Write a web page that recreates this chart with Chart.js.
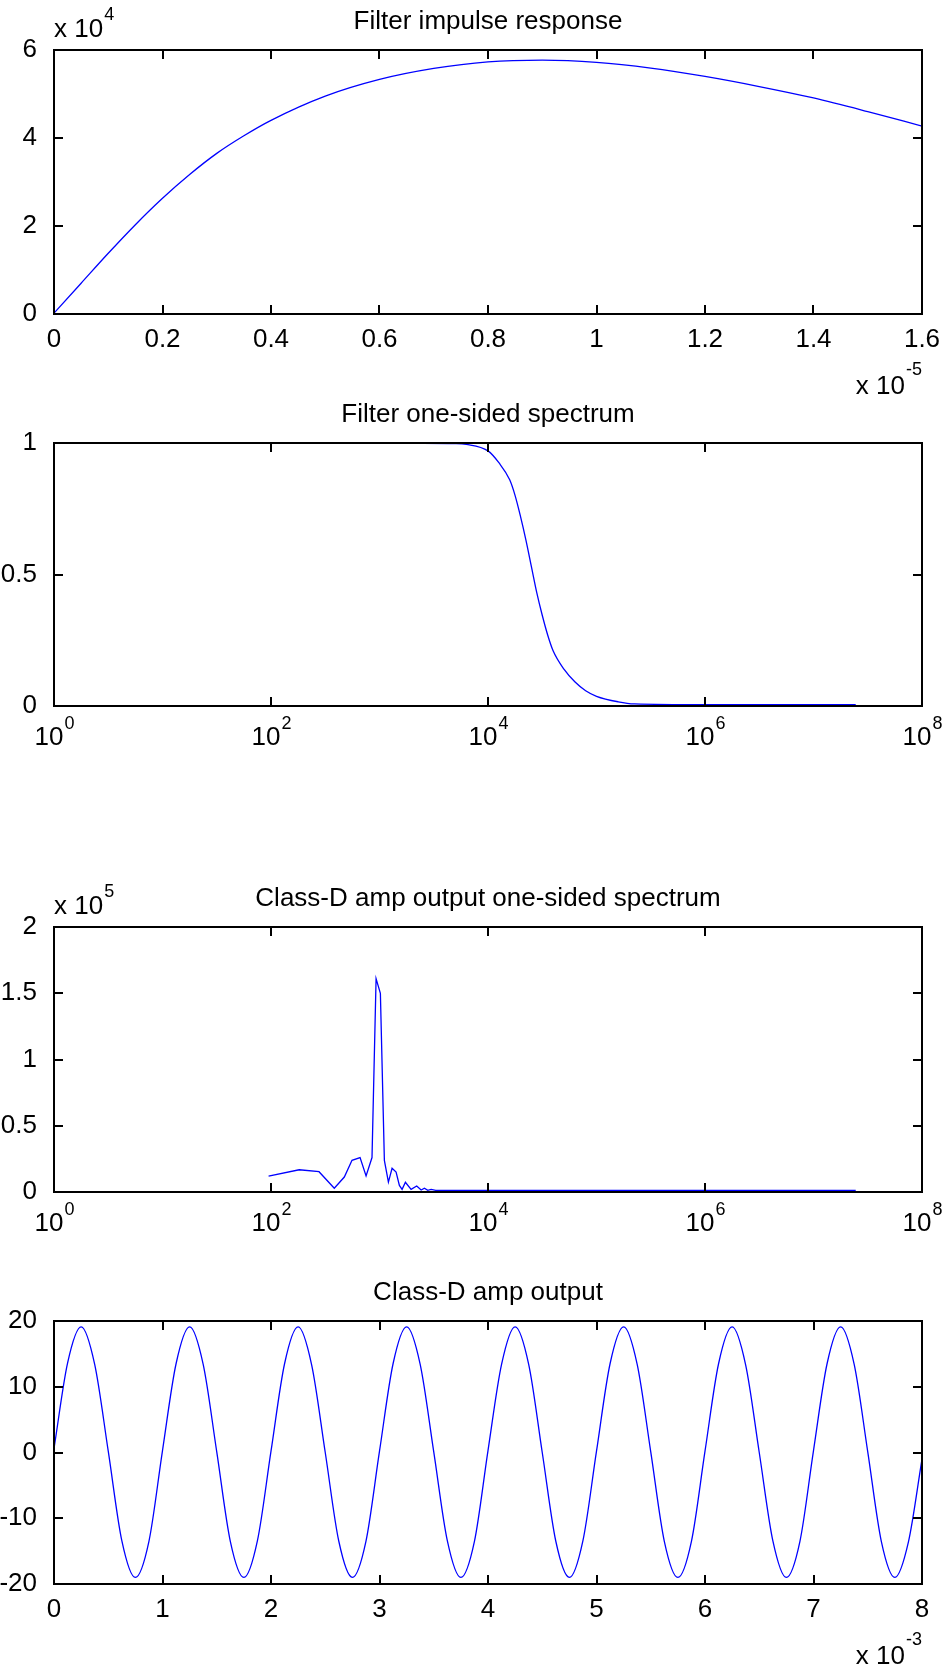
<!DOCTYPE html>
<html>
<head>
<meta charset="utf-8">
<title>Class-D amp</title>
<script src="https://cdn.jsdelivr.net/npm/chart.js@4.4.1/dist/chart.umd.min.js"></script>
<style>
  html, body { margin: 0; padding: 0; background: #fff; overflow: hidden; }
  #wrap { position: relative; width: 947px; height: 1670px; }
  canvas { position: absolute; left: 0; }
</style>
</head>
<body>
<div id="wrap">
  <canvas id="c1"></canvas>
  <canvas id="c2"></canvas>
  <canvas id="c3"></canvas>
  <canvas id="c4"></canvas>
</div>
<script>
// ---- data ----

// Filter impulse response: time in units of 1e-5 s, value in units of 1e4
const impulseT = [0, 0.05, 0.1, 0.15, 0.2, 0.25, 0.3, 0.35, 0.4, 0.5, 0.6, 0.7, 0.8, 0.9, 1.0, 1.1, 1.2, 1.3, 1.4, 1.5, 1.6];
const impulseH = [0.02, 0.7, 1.38, 2.03, 2.63, 3.17, 3.65, 4.05, 4.4, 4.95, 5.33, 5.58, 5.73, 5.77, 5.72, 5.59, 5.40, 5.17, 4.91, 4.60, 4.27];
const impulseXTicks = [0, 0.2, 0.4, 0.6, 0.8, 1, 1.2, 1.4, 1.6];
const impulseYTicks = [0, 2, 4, 6];

// Filter one-sided spectrum: frequency in Hz, magnitude
const filterFreq = [100, 1000, 5000, 6310, 10000, 12590, 15850, 17780, 19950, 22390, 25120, 28180, 31620, 35480, 39810, 50120, 63100, 79430, 100000, 158500, 223900, 1000000, 24500000];
const filterMag = [1, 1, 0.998, 0.995, 0.97, 0.925, 0.86, 0.80, 0.72, 0.63, 0.53, 0.43, 0.345, 0.27, 0.21, 0.14, 0.092, 0.058, 0.037, 0.016, 0.008, 0.005, 0.005];
const spectrumYTicks = [0, 0.5, 1];

// Class-D amp output one-sided spectrum: frequency in Hz, magnitude in units of 1e5
const ampFreq = [95, 182, 277, 383, 474, 558, 662, 752, 853, 930, 1019, 1109, 1208, 1306, 1422, 1525, 1615, 1733, 1955, 2203, 2421, 2594, 2785, 2990, 3300, 10000, 1000000, 24500000];
const ampMag = [0.12, 0.168, 0.153, 0.028, 0.113, 0.239, 0.26, 0.121, 0.26, 1.61, 1.50, 0.239, 0.075, 0.179, 0.151, 0.05, 0.02, 0.073, 0.02, 0.045, 0.015, 0.028, 0.012, 0.02, 0.012, 0.012, 0.012, 0.012];
const ampSpecYTicks = [0, 0.5, 1, 1.5, 2];

const logTicks = [1, 100, 10000, 1000000, 100000000];

// Class-D amp output: time in units of 1e-3 s, volts
const outT = [
  0, 0.125, 0.25, 0.375, 0.5, 0.625, 0.75, 0.875,
  1, 1.125, 1.25, 1.375, 1.5, 1.625, 1.75, 1.875,
  2, 2.125, 2.25, 2.375, 2.5, 2.625, 2.75, 2.875,
  3, 3.125, 3.25, 3.375, 3.5, 3.625, 3.75, 3.875,
  4, 4.125, 4.25, 4.375, 4.5, 4.625, 4.75, 4.875,
  5, 5.125, 5.25, 5.375, 5.5, 5.625, 5.75, 5.875,
  6, 6.125, 6.25, 6.375, 6.5, 6.625, 6.75, 6.875,
  7, 7.125, 7.25, 7.375, 7.5, 7.625, 7.75, 7.875,
  8
];
const outV = [
  0.6, 13.6, 19.1, 13.4, 0.2, -13.4, -19.0, -13.5,
  0.3, 13.5, 19.1, 13.4, 0.1, -13.5, -19.0, -13.4,
  0.2, 13.5, 19.1, 13.3, 0.0, -13.5, -19.0, -13.5,
  0.2, 13.5, 19.1, 13.4, 0.1, -13.4, -19.0, -13.5,
  0.3, 13.4, 19.1, 13.4, 0.0, -13.5, -19.0, -13.4,
  0.2, 13.5, 19.1, 13.4, 0.1, -13.5, -19.0, -13.5,
  0.2, 13.5, 19.1, 13.3, 0.0, -13.4, -19.0, -13.5,
  0.3, 13.5, 19.1, 13.4, 0.1, -13.5, -19.0, -13.6,
  -1.0
];
const outXTicks = [0, 1, 2, 3, 4, 5, 6, 7, 8];
const outYTicks = [-20, -10, 0, 10, 20];

// ---- look ----
const FONT_FAMILY = '"Liberation Sans", Arial, Helvetica, sans-serif';
const FONT_SIZE = 26;
const SUP_SIZE = 18;
const TICK_LEN = 9;
const PLOT_LEFT = 54;
const PLOT_RIGHT = 922;
const PAGE_W = 947;

Chart.defaults.font.family = FONT_FAMILY;
Chart.defaults.font.size = FONT_SIZE;
Chart.defaults.color = '#000';

// MATLAB-like box, inward ticks on all sides, title and exponent notes
const matlabAxes = {
  id: 'matlabAxes',
  afterDraw(chart, args, opts) {
    const ctx = chart.ctx;
    const a = chart.chartArea;
    const xs = chart.scales.x;
    const ys = chart.scales.y;
    ctx.save();
    ctx.strokeStyle = '#000';
    ctx.lineWidth = 2;
    ctx.beginPath();
    xs.ticks.forEach((t) => {
      const px = Math.round(xs.getPixelForValue(t.value));
      ctx.moveTo(px, a.bottom);
      ctx.lineTo(px, a.bottom - TICK_LEN);
      ctx.moveTo(px, a.top);
      ctx.lineTo(px, a.top + TICK_LEN);
    });
    ys.ticks.forEach((t) => {
      const py = Math.round(ys.getPixelForValue(t.value));
      ctx.moveTo(a.left, py);
      ctx.lineTo(a.left + TICK_LEN, py);
      ctx.moveTo(a.right, py);
      ctx.lineTo(a.right - TICK_LEN, py);
    });
    ctx.stroke();
    ctx.strokeRect(a.left, a.top, a.right - a.left, a.bottom - a.top);

    const big = FONT_SIZE + 'px ' + FONT_FAMILY;
    const small = SUP_SIZE + 'px ' + FONT_FAMILY;
    ctx.fillStyle = '#000';
    ctx.textBaseline = 'middle';

    // title
    ctx.font = big;
    ctx.textAlign = 'center';
    ctx.fillText(opts.title, (a.left + a.right) / 2, a.top - 28);

    // log axis labels 10^n
    if (opts.logLabels) {
      xs.ticks.forEach((t) => {
        const px = xs.getPixelForValue(t.value);
        const e = String(Math.round(Math.log10(t.value)));
        ctx.font = big;
        const w1 = ctx.measureText('10').width;
        ctx.font = small;
        const w2 = ctx.measureText(e).width;
        const x0 = px - (w1 + w2) / 2;
        ctx.textAlign = 'left';
        ctx.font = big;
        ctx.fillText('10', x0, a.bottom + 32);
        ctx.font = small;
        ctx.fillText(e, x0 + w1 + 1, a.bottom + 18);
      });
    }

    // "x 10^n" on the y axis
    if (opts.yExp) {
      ctx.textAlign = 'left';
      ctx.font = big;
      const w = ctx.measureText('x 10').width;
      ctx.fillText('x 10', a.left, a.top - 20);
      ctx.font = small;
      ctx.fillText(opts.yExp, a.left + w + 1, a.top - 35);
    }

    // "x 10^n" under the x axis
    if (opts.xExp) {
      ctx.font = small;
      const w2 = ctx.measureText(opts.xExp).width;
      ctx.textAlign = 'left';
      ctx.fillText(opts.xExp, a.right - w2, a.bottom + 56);
      ctx.font = big;
      ctx.textAlign = 'right';
      ctx.fillText('x 10', a.right - w2 - 1, a.bottom + 73);
    }
    ctx.restore();
  }
};

function fixedTicks(list) {
  return (scale) => {
    scale.ticks = list.map((v) => ({ value: v }));
  };
}

// plain MATLAB style numbers: 1 not 1.0
const plainLabel = (v) => String(v);

function makeChart(id, box, dataset, xCfg, yCfg, notes) {
  const canvas = document.getElementById(id);
  const canvasTop = box.top - 50;
  const canvasH = box.bottom - canvasTop + box.below;
  canvas.width = PAGE_W;
  canvas.height = canvasH;
  canvas.style.top = canvasTop + 'px';
  canvas.style.width = PAGE_W + 'px';
  canvas.style.height = canvasH + 'px';

  return new Chart(canvas.getContext('2d'), {
    type: 'line',
    data: { datasets: [dataset] },
    options: {
      responsive: false,
      animation: false,
      devicePixelRatio: 1,
      layout: { padding: { left: 0, right: PAGE_W - PLOT_RIGHT, top: 50, bottom: 0 } },
      plugins: {
        legend: { display: false },
        tooltip: { enabled: false },
        title: { display: false },
        matlabAxes: notes
      },
      elements: { point: { radius: 0 } },
      scales: {
        x: Object.assign({
          position: 'bottom',
          grid: { display: false },
          border: { display: false },
          afterFit: (s) => { s.height = box.below; }
        }, xCfg),
        y: Object.assign({
          position: 'left',
          grid: { display: false },
          border: { display: false },
          afterFit: (s) => { s.width = PLOT_LEFT; }
        }, yCfg)
      }
    },
    plugins: [matlabAxes]
  });
}

function line(xs, ys, extra) {
  return Object.assign({
    data: xs.map((x, i) => ({ x: x, y: ys[i] })),
    borderColor: '#0000ff',
    borderWidth: 1.3,
    fill: false,
    pointRadius: 0
  }, extra || {});
}

// 1. Filter impulse response
makeChart('c1', { top: 50, bottom: 314, below: 86 },
  line(impulseT, impulseH, { cubicInterpolationMode: 'monotone' }),
  { type: 'linear', min: 0, max: 1.6, afterBuildTicks: fixedTicks(impulseXTicks),
    ticks: { padding: 2, callback: plainLabel } },
  { type: 'linear', min: 0, max: 6, afterBuildTicks: fixedTicks(impulseYTicks),
    ticks: { padding: 9, callback: plainLabel } },
  { title: 'Filter impulse response', yExp: '4', xExp: '-5' });

// 2. Filter one-sided spectrum
makeChart('c2', { top: 443, bottom: 706, below: 64 },
  line(filterFreq, filterMag, { cubicInterpolationMode: 'monotone' }),
  { type: 'logarithmic', min: 1, max: 1e8, afterBuildTicks: fixedTicks(logTicks),
    ticks: { display: false } },
  { type: 'linear', min: 0, max: 1, afterBuildTicks: fixedTicks(spectrumYTicks),
    ticks: { padding: 9, callback: plainLabel } },
  { title: 'Filter one-sided spectrum', logLabels: true });

// 3. Class-D amp output one-sided spectrum
makeChart('c3', { top: 927, bottom: 1192, below: 58 },
  line(ampFreq, ampMag, { tension: 0 }),
  { type: 'logarithmic', min: 1, max: 1e8, afterBuildTicks: fixedTicks(logTicks),
    ticks: { display: false } },
  { type: 'linear', min: 0, max: 2, afterBuildTicks: fixedTicks(ampSpecYTicks),
    ticks: { padding: 9, callback: plainLabel } },
  { title: 'Class-D amp output one-sided spectrum', yExp: '5', logLabels: true });

// 4. Class-D amp output
makeChart('c4', { top: 1321, bottom: 1584, below: 86 },
  line(outT, outV, { cubicInterpolationMode: 'monotone' }),
  { type: 'linear', min: 0, max: 8, afterBuildTicks: fixedTicks(outXTicks),
    ticks: { padding: 2, callback: plainLabel } },
  { type: 'linear', min: -20, max: 20, afterBuildTicks: fixedTicks(outYTicks),
    ticks: { padding: 9, callback: plainLabel } },
  { title: 'Class-D amp output', xExp: '-3' });
</script>
</body>
</html>
